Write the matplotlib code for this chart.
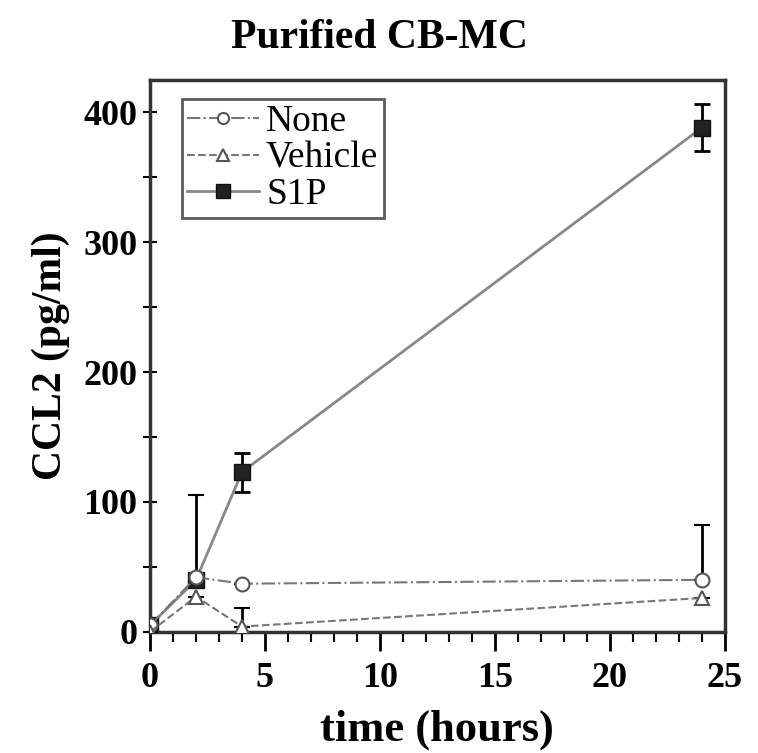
import numpy as np
import matplotlib
matplotlib.use("Agg")
import matplotlib.pyplot as plt
from matplotlib.ticker import MultipleLocator

plt.rcParams['font.family'] = ['Liberation Serif', 'DejaVu Serif']
plt.rcParams['font.weight'] = 'bold'

# CCL2 release by purified CB-MC over time
time_h = [0, 2, 4, 24]
none_vals = [5, 42, 37, 40]
none_err = [0, 63, 0, 42]
vehicle_vals = [0, 27, 4, 26]
vehicle_err = [0, 0, 14, 0]
s1p_vals = [5, 40, 123, 388]
s1p_err = [0, 0, 15, 18]

fig = plt.figure(figsize=(7.58, 7.53), dpi=100)
ax = fig.add_axes([0.198, 0.161, 0.758, 0.733])

c_none = ax.errorbar(time_h, none_vals, yerr=[np.zeros(4), none_err], color='#777777',
                     ls='-.', lw=1.5, marker='o', ms=10, mfc='white', mec='#555555',
                     mew=1.5, ecolor='black', elinewidth=2, capsize=6, capthick=2,
                     label='None', zorder=3)
c_veh = ax.errorbar(time_h, vehicle_vals, yerr=[np.zeros(4), vehicle_err], color='#777777',
                    ls='--', lw=1.5, marker='^', ms=10, mfc='white', mec='#555555',
                    mew=1.5, ecolor='black', elinewidth=2, capsize=6, capthick=2,
                    label='Vehicle', zorder=3)
c_s1p = ax.errorbar(time_h, s1p_vals, yerr=s1p_err, color='#888888',
                    ls='-', lw=2, marker='s', ms=12, mfc='#222222', mec='#111111',
                    ecolor='black', elinewidth=2, capsize=6, capthick=2,
                    label='S1P', zorder=2)

ax.set_xlim(0, 25)
ax.set_ylim(0, 425)
ax.xaxis.set_major_locator(MultipleLocator(5))
ax.xaxis.set_minor_locator(MultipleLocator(1))
ax.yaxis.set_major_locator(MultipleLocator(100))
ax.yaxis.set_minor_locator(MultipleLocator(50))
ax.tick_params(axis='x', which='major', direction='out', length=14, width=2,
               labelsize=26, pad=8)
ax.tick_params(axis='x', which='minor', direction='out', length=7, width=1.5)
ax.tick_params(axis='y', which='both', direction='inout', length=10, width=1.5,
               labelsize=26, pad=4)
for sp in ax.spines.values():
    sp.set_linewidth(2.5)
    sp.set_color('#333333')

fig.suptitle('Purified CB-MC', x=0.5, y=0.975, fontsize=30, fontweight='bold')
ax.set_xlabel('time (hours)', fontsize=32, fontweight='bold', labelpad=10)
ax.set_ylabel('CCL2 (pg/ml)', fontsize=30, fontweight='bold', labelpad=10)

leg = ax.legend(handles=[c_none[0], c_veh[0], c_s1p[0]],
                labels=['None', 'Vehicle', 'S1P'],
                loc='upper left', bbox_to_anchor=(0.055, 0.965), fontsize=27,
                frameon=True, fancybox=False, edgecolor='#333333',
                handlelength=1.9, handletextpad=0.2, borderpad=0.15,
                labelspacing=0.05, borderaxespad=0, markerscale=0.8)
leg.get_frame().set_linewidth(2)
for t in leg.get_texts():
    t.set_fontweight('normal')

fig.savefig('out.png', dpi=100)
